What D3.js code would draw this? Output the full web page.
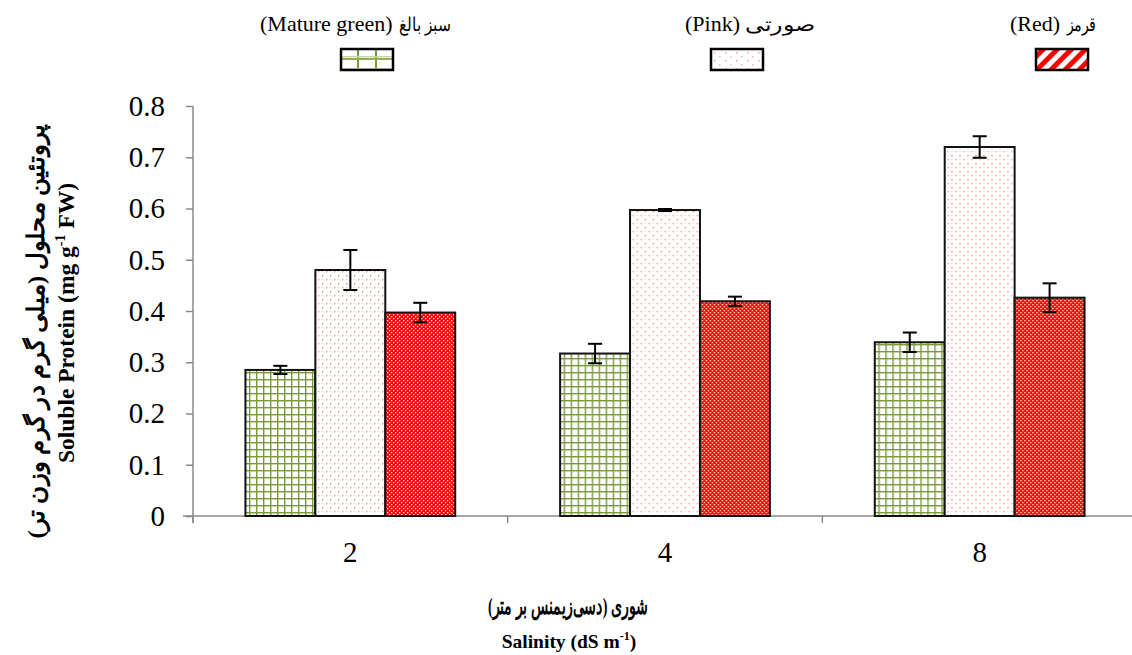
<!DOCTYPE html>
<html>
<head>
<meta charset="utf-8">
<script src="https://cdn.jsdelivr.net/npm/d3@7"></script>
<style>
  body { margin: 0; background: #fff; }
</style>
</head>
<body>
<div id="chart"></div>
<script>
var svgWidth = 1132
var svgHeight = 655

var margin = { top: 106, right: -5, bottom: 139, left: 193 }
var width = svgWidth - margin.left - margin.right
var height = svgHeight - margin.top - margin.bottom

// data
var salinity = ["2", "4", "8"]
var stages = ["green", "pink", "red"]
var stageNamesEn = ["(Mature green)", "(Pink)", "(Red)"]
var stageNamesFa = ["سبز بالغ", "صورتی", "قرمز"]
var greenVals = [0.285, 0.317, 0.339]
var pinkVals = [0.480, 0.597, 0.720]
var redVals = [0.397, 0.419, 0.426]
var greenErr = [0.008, 0.019, 0.019]
var pinkErr = [0.039, 0.002, 0.021]
var redErr = [0.019, 0.009, 0.028]
var yTicks = [0, 0.1, 0.2, 0.3, 0.4, 0.5, 0.6, 0.7, 0.8]

var vals = { green: greenVals, pink: pinkVals, red: redVals }
var errs = { green: greenErr, pink: pinkErr, red: redErr }

var serif = "'Liberation Serif'"

var svg = d3.select("#chart")
  .append("svg")
  .attr("width", svgWidth)
  .attr("height", svgHeight)

var defs = svg.append("defs")

// green grid fill
var pg = defs.append("pattern").attr("id", "fill-green")
  .attr("patternUnits", "userSpaceOnUse").attr("width", 7).attr("height", 7)
pg.append("rect").attr("width", 7).attr("height", 7).attr("fill", "#fff")
pg.append("rect").attr("x", 0).attr("y", 0).attr("width", 1.4).attr("height", 7).attr("fill", "#789a3c")
pg.append("rect").attr("x", 0).attr("y", 0).attr("width", 7).attr("height", 1.4).attr("fill", "#789a3c")

// pink dotted fill
var pp = defs.append("pattern").attr("id", "fill-pink")
  .attr("patternUnits", "userSpaceOnUse").attr("width", 8).attr("height", 8)
pp.append("rect").attr("width", 8).attr("height", 8).attr("fill", "#fff")
pp.append("rect").attr("x", 1).attr("y", 1).attr("width", 1.3).attr("height", 1.3).attr("fill", "#ec6f6f")
pp.append("rect").attr("x", 5).attr("y", 5).attr("width", 1.3).attr("height", 1.3).attr("fill", "#f29a9a")
pp.append("rect").attr("x", 1).attr("y", 5).attr("width", 1).attr("height", 1).attr("fill", "#f6c0c0")

// red checker fill
var pr = defs.append("pattern").attr("id", "fill-red")
  .attr("patternUnits", "userSpaceOnUse").attr("width", 4).attr("height", 4)
pr.append("rect").attr("width", 4).attr("height", 4).attr("fill", "#ff0000")
pr.append("rect").attr("x", 0).attr("y", 0).attr("width", 1.3).attr("height", 1.3).attr("fill", "#ffffff")
pr.append("rect").attr("x", 2).attr("y", 2).attr("width", 1.3).attr("height", 1.3).attr("fill", "#ffffff")

// legend fills
var lg = defs.append("pattern").attr("id", "leg-green")
  .attr("patternUnits", "userSpaceOnUse").attr("width", 18).attr("height", 12)
  .attr("x", 341).attr("y", 48)
lg.append("rect").attr("width", 18).attr("height", 12).attr("fill", "#fff")
lg.append("rect").attr("x", 16).attr("y", 0).attr("width", 2.5).attr("height", 12).attr("fill", "#7a9a3a")
lg.append("rect").attr("x", 0).attr("y", 10).attr("width", 18).attr("height", 2.5).attr("fill", "#8fae55")
lg.append("rect").attr("x", 0).attr("y", 8).attr("width", 18).attr("height", 1.5).attr("fill", "#c6d6a6")

var lr = defs.append("pattern").attr("id", "leg-red")
  .attr("patternUnits", "userSpaceOnUse").attr("width", 10).attr("height", 10)
  .attr("patternTransform", "rotate(45)")
lr.append("rect").attr("width", 10).attr("height", 10).attr("fill", "#fff")
lr.append("rect").attr("width", 5).attr("height", 10).attr("fill", "#f00")

var lp = defs.append("pattern").attr("id", "leg-pink")
  .attr("patternUnits", "userSpaceOnUse").attr("width", 11).attr("height", 8)
  .attr("x", 712).attr("y", 50)
lp.append("rect").attr("width", 11).attr("height", 8).attr("fill", "#fff")
lp.append("rect").attr("x", 2).attr("y", 2).attr("width", 1.5).attr("height", 1.5).attr("fill", "#f0a0a0")
lp.append("rect").attr("x", 7).attr("y", 6).attr("width", 1.5).attr("height", 1.5).attr("fill", "#f4b8b8")

var legendFills = { green: "url(#leg-green)", pink: "url(#leg-pink)", red: "url(#leg-red)" }

var chartGroup = svg.append("g")
  .attr("transform", `translate(${margin.left}, ${margin.top})`)

var x0 = d3.scaleBand()
  .domain(salinity)
  .range([0, width])

var x1 = d3.scaleBand()
  .domain(stages)
  .range([0, x0.bandwidth()])
  .paddingOuter(0.75)

var y = d3.scaleLinear()
  .domain([0, 0.8])
  .range([height, 0])

// x axis with ticks at category boundaries
var xAxis = chartGroup.append("g")
  .attr("transform", `translate(0, ${height})`)
xAxis.append("line")
  .attr("x1", -10).attr("x2", width)
  .attr("stroke", "#888").attr("stroke-width", 1.5)
xAxis.selectAll(".btick")
  .data(salinity)
  .enter()
  .append("line")
  .attr("x1", d => x0(d)).attr("x2", d => x0(d))
  .attr("y1", 0).attr("y2", 7)
  .attr("stroke", "#888").attr("stroke-width", 1.5)
xAxis.selectAll(".xlab")
  .data(salinity)
  .enter()
  .append("text")
  .attr("x", d => x0(d) + x0.bandwidth() / 2)
  .attr("y", 46)
  .attr("text-anchor", "middle")
  .attr("font-size", 29)
  .style("font-family", serif)
  .text(d => d)

var leftAxis = d3.axisLeft(y).tickValues(yTicks).tickSize(7).tickPadding(21)
  .tickFormat(d => d === 0 ? "0" : d3.format(".1f")(d))
var yAxis = chartGroup.append("g").call(leftAxis)
yAxis.select(".domain").attr("stroke", "#888").attr("stroke-width", 1.5)
  .attr("d", `M0,0V${height + 7}`)
yAxis.selectAll(".tick line").attr("stroke", "#888").attr("stroke-width", 1.5)
yAxis.selectAll(".tick text")
  .attr("font-size", 29)
  .attr("fill", "#000")
  .style("font-family", serif)

// bars
var groups = chartGroup.selectAll(".grp")
  .data(salinity)
  .enter()
  .append("g")
  .attr("transform", d => `translate(${x0(d)}, 0)`)

groups.selectAll("rect")
  .data((d, i) => stages.map(s => ({ s: s, v: vals[s][i], e: errs[s][i] })))
  .enter()
  .append("rect")
  .attr("x", d => x1(d.s))
  .attr("y", d => y(d.v))
  .attr("width", x1.bandwidth())
  .attr("height", d => height - y(d.v))
  .attr("fill", d => "url(#fill-" + d.s + ")")
  .attr("stroke", "#111")
  .attr("stroke-width", 2)

// error bars
var eb = groups.selectAll(".err")
  .data((d, i) => stages.map(s => ({ s: s, v: vals[s][i], e: errs[s][i] })))
  .enter()
  .append("g")
  .attr("stroke", "#000")
  .attr("stroke-width", 2)
eb.append("line")
  .attr("x1", d => x1(d.s) + x1.bandwidth() / 2)
  .attr("x2", d => x1(d.s) + x1.bandwidth() / 2)
  .attr("y1", d => y(d.v + d.e))
  .attr("y2", d => y(d.v - d.e))
eb.append("line")
  .attr("x1", d => x1(d.s) + x1.bandwidth() / 2 - 7)
  .attr("x2", d => x1(d.s) + x1.bandwidth() / 2 + 7)
  .attr("y1", d => y(d.v + d.e))
  .attr("y2", d => y(d.v + d.e))
eb.append("line")
  .attr("x1", d => x1(d.s) + x1.bandwidth() / 2 - 7)
  .attr("x2", d => x1(d.s) + x1.bandwidth() / 2 + 7)
  .attr("y1", d => y(d.v - d.e))
  .attr("y2", d => y(d.v - d.e))

// legend
var legendX = [367, 737, 1062]
var legendTextL = [260, 685, 1010]
var legendTextR = [451, 815, 1096]
var legendFaLen = [52, 70, 29]
var legend = svg.selectAll(".legend")
  .data(stages)
  .enter()
  .append("g")
legend.append("text")
  .attr("x", (d, i) => legendTextL[i])
  .attr("y", 31)
  .attr("font-size", 22)
  .style("font-family", serif)
  .text((d, i) => stageNamesEn[i])
legend.append("text")
  .attr("x", (d, i) => legendTextR[i] - legendFaLen[i])
  .attr("y", 31)
  .attr("font-size", 19)
  .attr("textLength", (d, i) => legendFaLen[i])
  .attr("lengthAdjust", "spacingAndGlyphs")
  .style("font-family", serif)
  .text((d, i) => stageNamesFa[i])
legend.append("rect")
  .attr("x", (d, i) => legendX[i] - 26).attr("y", 49)
  .attr("width", 52).attr("height", 21)
  .attr("fill", d => legendFills[d])
  .attr("stroke", "#000")
  .attr("stroke-width", 2.5)

// axis titles
svg.append("text")
  .attr("transform", "translate(44, 331) rotate(-90)")
  .attr("text-anchor", "middle")
  .attr("direction", "rtl")
  .attr("font-size", 24)
  .attr("font-weight", "bold")
  .attr("textLength", 415)
  .attr("lengthAdjust", "spacingAndGlyphs")
  .style("font-family", serif)
  .text("پروتئین محلول (میلی گرم در گرم وزن تر)")

var yt = svg.append("text")
  .attr("transform", "translate(74, 323) rotate(-90)")
  .attr("text-anchor", "middle")
  .attr("font-size", 23.5)
  .attr("font-weight", "bold")
  .style("font-family", serif)
yt.append("tspan").text("Soluble Protein (mg g")
yt.append("tspan").attr("dy", -9).attr("font-size", 14).text("-1")
yt.append("tspan").attr("dy", 9).text(" FW)")

svg.append("text")
  .attr("x", 568).attr("y", 614)
  .attr("text-anchor", "middle")
  .attr("direction", "rtl")
  .attr("font-size", 24)
  .attr("font-weight", "bold")
  .attr("textLength", 160)
  .attr("lengthAdjust", "spacingAndGlyphs")
  .style("font-family", serif)
  .text("شوری (دسی‌زیمنس بر متر)")

var xt = svg.append("text")
  .attr("x", 569).attr("y", 648)
  .attr("text-anchor", "middle")
  .attr("font-size", 19.5)
  .attr("font-weight", "bold")
  .style("font-family", serif)
xt.append("tspan").text("Salinity (dS m")
xt.append("tspan").attr("dy", -8).attr("font-size", 12).text("-1")
xt.append("tspan").attr("dy", 8).text(")")
</script>
</body>
</html>
